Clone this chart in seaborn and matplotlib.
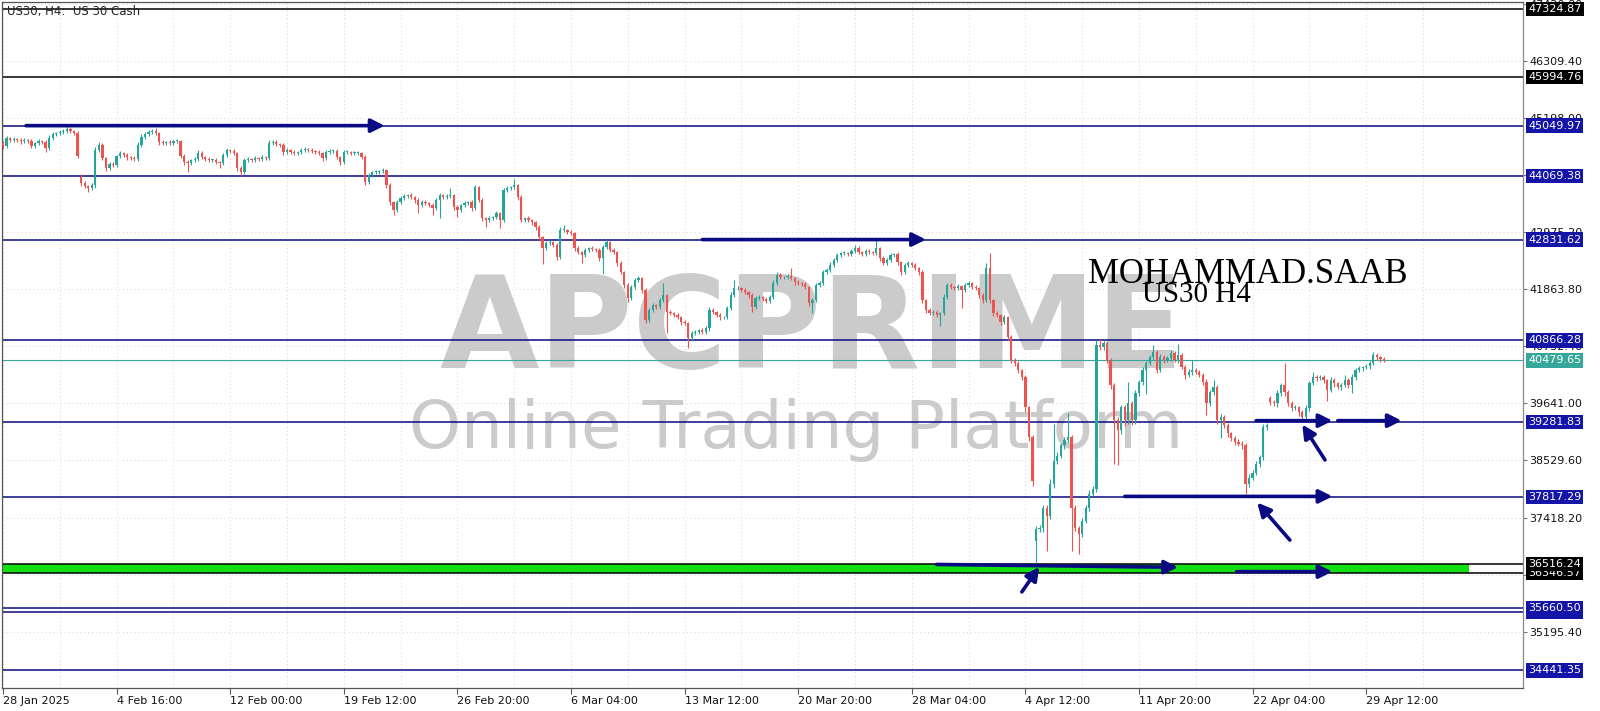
import numpy as np
import pandas as pd
import matplotlib
matplotlib.use("Agg")
import matplotlib.pyplot as plt
import seaborn as sns
from matplotlib.patches import Rectangle

# ---------------- data ----------------
closes = [
    44652, 44808, 44769, 44788, 44769, 44750, 44769, 44750, 44652, 44710,
    44750, 44730, 44613, 44808, 44886, 44905, 44925, 44944, 44984, 44944,
    44905, 44457, 43930, 43872, 43833, 43892, 44574, 44672, 44418, 44223,
    44301, 44282, 44457, 44516, 44476, 44438, 44418, 44398, 44672, 44828,
    44886, 44925, 44944, 44905, 44730, 44710, 44730, 44710, 44750, 44750,
    44457, 44340, 44320, 44379, 44398, 44516, 44438, 44398, 44379, 44379,
    44340, 44320, 44476, 44574, 44554, 44516, 44223, 44145, 44379, 44398,
    44379, 44418, 44398, 44438, 44418, 44710, 44730, 44691, 44672, 44535,
    44574, 44535, 44516, 44535, 44574, 44594, 44574, 44554, 44535, 44516,
    44418, 44535, 44554, 44554, 44438, 44340, 44535, 44535, 44516, 44516,
    44516, 44438, 43950, 44086, 44145, 44145, 44164, 44184, 43892, 43560,
    43404, 43560, 43638, 43677, 43696, 43658, 43599, 43502, 43560, 43540,
    43502, 43443, 43599, 43696, 43658, 43677, 43696, 43462, 43404, 43502,
    43540, 43560, 43443, 43852, 43599, 43248, 43209, 43248, 43268, 43346,
    43209, 43794, 43833, 43852, 43892, 43658, 43209, 43248, 43209, 43170,
    43072, 42878, 42663, 42760, 42780, 42722, 42488, 43014, 43014, 42975,
    42956, 42663, 42585, 42526, 42624, 42663, 42644, 42624, 42468, 42682,
    42780, 42624, 42585, 42370, 42195, 41942, 41688, 41902, 42039, 42078,
    41844, 41259, 41454, 41552, 41512, 41649, 41746, 41415, 41396, 41356,
    41318, 41220, 41200, 40908, 41006, 41025, 41064, 41025, 41103, 41454,
    41415, 41356, 41318, 41318, 41493, 41746, 41883, 41883, 41844, 41805,
    41746, 41512, 41688, 41708, 41668, 41630, 41708, 41980, 42136, 42098,
    42098, 42117, 42078, 42000, 41980, 41961, 41902, 41590, 41649, 41942,
    41980, 42195, 42234, 42332, 42429, 42526, 42566, 42566, 42546, 42604,
    42663, 42585, 42546, 42604, 42585, 42566, 42663, 42468, 42370, 42429,
    42526, 42546, 42390, 42195, 42332, 42370, 42332, 42273, 42195, 41649,
    41454, 41396, 41415, 41356, 41396, 41708, 41942, 41902, 41883, 41922,
    41844, 41942, 41980, 41902, 41883, 41746, 41649, 42273, 41649, 41396,
    41356, 41220, 41318, 40928, 40479, 40420, 40284, 40148, 39562, 38978,
    38139, 37203, 37222, 37612, 37456, 38080, 38529, 38626, 38822, 38919,
    38978, 37612, 37222, 37106, 37359, 37612, 37886, 37983, 40772, 40732,
    40810, 40479, 39992, 39309, 39114, 39562, 39309, 39640, 39309, 39836,
    40050, 40284, 40420, 40538, 40635, 40284, 40538, 40479, 40518, 40616,
    40479, 40576, 40342, 40186, 40245, 40284, 40245, 40186, 40050, 39640,
    39855, 39952, 39309, 39368, 39212, 39056, 38958, 38880, 38860, 38822,
    38080, 38198, 38295, 38470, 38588, 39172, 39212, 39660, 39640, 39836,
    39992, 39855, 39640, 39543, 39562, 39465, 39368, 39543, 40030, 40148,
    40128, 40148, 40089, 39894, 40089, 40030, 39952, 39992, 40089, 39992,
    40148, 40284, 40323, 40342, 40362, 40420, 40576, 40538, 40498, 40480,
]
# opens where the bar did not open at the previous close (session gaps)
gap_opens = {0: 44710, 22: 44050, 291: 36970, 357: 39740}

wick_up = [
    40, 50, 30, 40, 30, 40, 50, 30, 40, 30,
    40, 30, 50, 60, 40, 30, 40, 50, 60, 40,
    30, 40, 50, 40, 30, 40, 60, 50, 40, 30,
    40, 50, 30, 40, 30, 40, 30, 40, 50, 60,
    40, 50, 40, 60, 30, 40, 30, 40, 30, 40,
    30, 40, 40, 30, 50, 60, 40, 30, 40, 30,
    40, 30, 50, 40, 30, 40, 30, 40, 50, 40,
    30, 40, 30, 40, 30, 60, 50, 40, 30, 40,
    40, 30, 40, 30, 50, 40, 30, 40, 30, 40,
    30, 50, 40, 30, 40, 30, 50, 40, 30, 40,
    40, 30, 50, 40, 30, 40, 30, 40, 30, 40,
    30, 40, 50, 40, 30, 40, 30, 40, 50, 40,
    30, 40, 50, 40, 30, 40, 140, 30, 40, 30,
    40, 30, 40, 40, 30, 40, 30, 40, 30, 50,
    30, 50, 40, 30, 120, 30, 40, 30, 40, 30,
    30, 40, 30, 50, 40, 30, 40, 60, 100, 30,
    40, 30, 40, 30, 40, 30, 40, 30, 40, 50,
    40, 30, 40, 30, 40, 30, 40, 50, 40, 40,
    30, 40, 50, 40, 30, 50, 240, 30, 40, 30,
    40, 30, 40, 30, 50, 40, 30, 40, 50, 60,
    40, 30, 40, 30, 50, 60, 160, 40, 30, 40,
    30, 40, 50, 40, 30, 40, 50, 60, 60, 40,
    30, 40, 160, 30, 40, 30, 40, 30, 40, 50,
    40, 50, 40, 60, 50, 40, 30, 40, 30, 50,
    60, 40, 30, 50, 40, 30, 160, 30, 40, 50,
    40, 30, 40, 30, 50, 40, 30, 40, 30, 40,
    30, 40, 50, 40, 30, 60, 50, 40, 30, 40,
    30, 50, 40, 30, 40, 30, 40, 100, 300, 30,
    40, 30, 40, 30, 40, 50, 40, 30, 40, 30,
    40, 60, 50, 60, 50, 80, 720, 60, 50, 60,
    470, 40, 50, 40, 60, 50, 60, 50, 100, 130,
    60, 40, 50, 40, 60, 50, 40, 410, 50, 60,
    50, 60, 50, 40, 140, 50, 60, 40, 50, 60,
    40, 230, 40, 50, 60, 200, 40, 50, 40, 60,
    50, 140, 40, 60, 50, 40, 30, 40, 60, 40,
    40, 60, 50, 40, 50, 60, 40, 50, 40, 60,
    50, 430, 40, 50, 40, 30, 40, 60, 50, 100,
    40, 50, 40, 30, 60, 40, 30, 50, 100, 40,
    60, 50, 40, 30, 40, 50, 60, 40, 30, 40,
]
wick_dn = [
    50, 40, 30, 40, 30, 50, 40, 30, 40, 30,
    40, 30, 80, 40, 30, 40, 30, 40, 30, 40,
    30, 40, 50, 40, 80, 40, 50, 40, 30, 60,
    40, 30, 40, 30, 40, 50, 30, 40, 30, 40,
    30, 40, 30, 40, 50, 30, 40, 30, 40, 30,
    40, 50, 180, 40, 30, 40, 30, 40, 30, 40,
    30, 100, 40, 30, 40, 30, 50, 80, 40, 30,
    40, 30, 40, 30, 40, 30, 40, 30, 40, 50,
    30, 40, 30, 40, 30, 40, 30, 40, 30, 40,
    50, 40, 30, 40, 30, 60, 40, 30, 40, 30,
    40, 30, 60, 40, 30, 40, 30, 40, 50, 60,
    100, 40, 30, 40, 30, 40, 50, 160, 40, 30,
    40, 140, 30, 350, 40, 30, 40, 50, 140, 40,
    30, 40, 50, 40, 30, 60, 140, 40, 30, 40,
    160, 40, 30, 40, 30, 50, 40, 30, 40, 50,
    60, 50, 300, 40, 30, 40, 60, 40, 30, 40,
    30, 60, 40, 160, 40, 30, 40, 30, 60, 300,
    40, 30, 40, 50, 40, 60, 80, 40, 30, 40,
    50, 60, 40, 30, 40, 30, 40, 400, 40, 30,
    40, 50, 40, 180, 40, 30, 40, 30, 40, 50,
    40, 30, 50, 40, 30, 40, 30, 40, 30, 40,
    50, 100, 40, 30, 40, 30, 40, 30, 40, 30,
    40, 30, 40, 50, 40, 30, 40, 60, 180, 40,
    30, 40, 30, 40, 30, 40, 30, 40, 30, 40,
    30, 40, 30, 40, 30, 40, 30, 50, 40, 30,
    40, 30, 50, 60, 40, 30, 40, 30, 50, 60,
    50, 40, 30, 40, 200, 40, 30, 40, 30, 40,
    340, 40, 30, 40, 30, 50, 60, 40, 60, 50,
    40, 60, 40, 50, 60, 50, 60, 50, 80, 60,
    100, 450, 60, 80, 680, 60, 80, 60, 50, 60,
    50, 840, 60, 390, 60, 50, 60, 50, 60, 50,
    60, 50, 80, 840, 680, 60, 100, 60, 80, 60,
    50, 60, 450, 40, 50, 60, 40, 50, 40, 60,
    40, 50, 40, 60, 40, 50, 40, 30, 50, 230,
    40, 50, 60, 350, 50, 60, 40, 50, 40, 60,
    210, 60, 50, 40, 60, 50, 40, 50, 40, 60,
    50, 60, 40, 50, 40, 60, 60, 40, 50, 40,
    60, 40, 50, 200, 40, 60, 40, 50, 40, 60,
    140, 50, 40, 60, 40, 50, 40, 60, 50, 40,
]

date_labels = ["28 Jan 2025", "4 Feb 16:00", "12 Feb 00:00", "19 Feb 12:00",
               "26 Feb 20:00", "6 Mar 04:00", "13 Mar 12:00", "20 Mar 20:00",
               "28 Mar 04:00", "4 Apr 12:00", "11 Apr 20:00", "22 Apr 04:00",
               "29 Apr 12:00"]
price_ticks = [47420.80, 46309.40, 45198.00, 44086.60, 42975.20, 41863.80,
               40752.40, 39641.00, 38529.60, 37418.20, 36306.80, 35195.40]

black_levels = [47324.87, 45994.76, 36516.24, 36346.57]
blue_levels = [45049.97, 44069.38, 42831.62, 40866.28, 39281.83, 37817.29,
               35660.50, 35585.91, 34441.35]
bid_price = 40479.65
zone_low, zone_high = 36346.57, 36516.24

symbol_text = "US30, H4:  US 30 Cash"
author_text = "MOHAMMAD.SAAB"
chart_text = "US30 H4"
brand_text = "APCPRIME"
brand_sub = "Online Trading Platform"

# ---------------- build OHLC ----------------
n = len(closes)
opens = [gap_opens.get(i, closes[i - 1] if i > 0 else closes[0]) for i in range(n)]
df = pd.DataFrame({"bar": np.arange(n), "open": opens, "close": closes,
                   "up": wick_up, "dn": wick_dn})
df["top"] = df[["open", "close"]].max(axis=1)
df["bot"] = df[["open", "close"]].min(axis=1)
df["high"] = df["top"] + df["up"]
df["low"] = df["bot"] - df["dn"]
df["bull"] = df["close"] >= df["open"]

# ---------------- figure ----------------
W, H = 1600, 711
sns.set_theme(style="white")
plt.rcParams["font.family"] = ["DejaVu Sans"]

fig = plt.figure(figsize=(W / 100, H / 100), dpi=100)
fig.patch.set_facecolor("white")
ax = fig.add_axes([2 / W, 23 / H, 1521 / W, 686 / H])
ax.set_facecolor("white")

px_per_bar = 3.55
x0 = -1 / px_per_bar
ax.set_xlim(x0, x0 + 1521 / px_per_bar)
ax.set_ylim(34099, 47458)

GREEN = "#26a69a"
RED = "#ef5350"
NAVY = "#0a0a82"
BOXBLUE = "#1414a8"
TEAL = "#36a89b"

# grid
ax.set_xticks(np.arange(0, 32 * len(date_labels), 32))
ax.set_xticks(np.arange(16, 32 * len(date_labels), 32), minor=True)
ax.set_xticklabels(date_labels, ha="left")
ax.set_yticks(price_ticks)
ax.set_yticklabels([f"{v:.2f}" for v in price_ticks])
ax.grid(True, which="both", axis="x", color="#d6d6d6", linestyle=(0, (1, 3)), linewidth=0.7)
ax.grid(True, which="major", axis="y", color="#d6d6d6", linestyle=(0, (1, 3)), linewidth=0.7)
ax.set_axisbelow(True)

ax.yaxis.tick_right()
ax.tick_params(axis="y", which="major", length=3, width=0.8, color="#777777",
               labelsize=8, pad=1.5, labelcolor="#111111")
ax.tick_params(axis="x", which="major", length=4, width=0.8, color="#555555",
               labelsize=8, pad=1.5, labelcolor="#111111", bottom=True)
ax.tick_params(axis="x", which="minor", length=0)
for side, sp in ax.spines.items():
    sp.set_visible(True)
    sp.set_linewidth(0.9)
    sp.set_color("#555555" if side != "right" else "#8a8a8a")

# watermark (inside axes, below everything)
def fitted_text(txt, xl, xr, ybase, **kw):
    t = ax.text((xl + xr) / 2 / W, 1 - ybase / H, txt, transform=fig.transFigure,
                ha="center", va="baseline", clip_on=False, **kw)
    r = fig.canvas.get_renderer()
    w = t.get_window_extent(r).width
    t.set_fontsize(t.get_fontsize() * (xr - xl) / w)
    return t

fitted_text(brand_text, 439, 1184, 368, fontsize=90, fontweight="bold",
            color="#cbcbcb", zorder=0.8, family=["DejaVu Sans"])
fitted_text(brand_sub, 409, 1184, 448, fontsize=36, fontweight="normal",
            color="#cbcbcb", zorder=0.8, family=["DejaVu Sans"])

# green zone
zone_right_bar = (1469 - 3) / px_per_bar
ax.add_patch(Rectangle((x0, zone_low), zone_right_bar - x0, zone_high - zone_low,
                       facecolor="#12e012", edgecolor="none", zorder=1.5))

# horizontal levels
for v in black_levels:
    ax.axhline(v, color="black", lw=1.1, zorder=2)
for v in blue_levels:
    ax.axhline(v, color=NAVY, lw=1.1, zorder=2)
ax.axhline(bid_price, color=TEAL, lw=0.8, zorder=2)

# candles
cols = np.where(df["bull"], GREEN, RED)
ax.vlines(df["bar"], df["low"], df["high"], colors=cols, lw=0.8, zorder=3)
heights = np.maximum(df["top"] - df["bot"], 14)
ax.bar(df["bar"], heights, bottom=df["bot"], width=0.62, color=cols,
       linewidth=0, zorder=3.1)

# drawn arrows (bar index, price)
arrows = [
    ((6.5, 45049.97), (107.5, 45049.97)),
    ((197.0, 42831.62), (260.0, 42831.62)),
    ((353.0, 39305.0), (374.5, 39305.0)),
    ((376.0, 39305.0), (394.0, 39305.0)),
    ((316.0, 37830.0), (374.5, 37830.0)),
    ((263.0, 36505.0), (331.0, 36450.0)),
    ((347.5, 36365.0), (374.5, 36365.0)),
    ((372.4, 38540.0), (366.0, 39230.0)),
    ((362.5, 36980.0), (353.3, 37710.0)),
    ((287.0, 35970.0), (291.9, 36460.0)),
]
for tail, tip in arrows:
    ax.annotate("", xy=tip, xytext=tail,
                arrowprops=dict(arrowstyle="-|>", lw=2.6, color=NAVY,
                                mutation_scale=20, shrinkA=0, shrinkB=0),
                zorder=4)

# price boxes on the right scale
box_order = [(47324.87, "black"), (45994.76, "black"), (45049.97, BOXBLUE),
             (44069.38, BOXBLUE), (42831.62, BOXBLUE), (40866.28, BOXBLUE),
             (bid_price, TEAL), (39281.83, BOXBLUE), (37817.29, BOXBLUE),
             (36346.57, "black"), (36516.24, "black"), (35585.91, BOXBLUE),
             (35660.50, BOXBLUE), (34441.35, BOXBLUE)]
ytr = ax.get_yaxis_transform()
for k, (v, c) in enumerate(box_order):
    ax.text(1 + 5 / 1521, v, f"{v:.2f}", transform=ytr, ha="left", va="center",
            fontsize=8, color="white", clip_on=False, zorder=5 + k * 0.01,
            bbox=dict(boxstyle="square,pad=0.2", fc=c, ec="none"))

# texts
ax.text(7 / W, 1 - 11 / H, symbol_text, transform=fig.transFigure, ha="left",
        va="center", fontsize=8.5, color="#222222", zorder=6, clip_on=False)
ax.text(1088 / W, 1 - 283 / H, author_text, transform=fig.transFigure, ha="left",
        va="baseline", fontsize=25, color="black", zorder=6,
        family=["Liberation Serif"], clip_on=False)
ax.text(1142 / W, 1 - 302 / H, chart_text, transform=fig.transFigure, ha="left",
        va="baseline", fontsize=21, color="black", zorder=6,
        family=["Liberation Serif"], clip_on=False)

fig.savefig("out.png", dpi=100, facecolor="white")
